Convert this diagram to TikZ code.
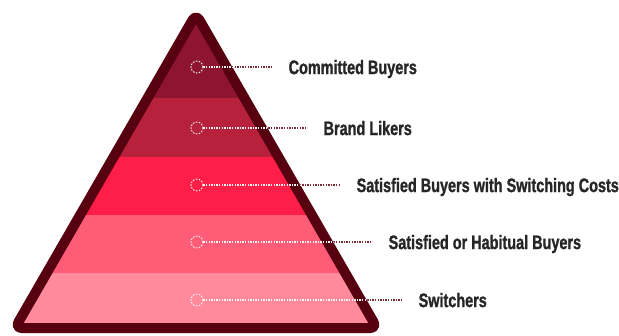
\documentclass[tikz,border=0pt]{standalone}
\usepackage{fontspec}
\newfontfamily\labelfont[FakeStretch=0.74,FakeBold=1.2]{Liberation Sans}
\usetikzlibrary{positioning}

\definecolor{rimred}{HTML}{57000F}
\definecolor{bandA}{HTML}{8E1530}
\definecolor{bandB}{HTML}{B8213C}
\definecolor{bandC}{HTML}{FF1E47}
\definecolor{bandD}{HTML}{FF5C78}
\definecolor{bandE}{HTML}{FF8A9C}
\definecolor{leader}{HTML}{7D2A37}
\definecolor{inkgray}{HTML}{262626}

\tikzset{
    ring/.style={circle, draw=white, line width=0.9pt, dash pattern=on 1.5pt off 1.5pt,
                 minimum size=12pt, inner sep=0pt},
    tag/.style={inner sep=0pt, text depth=0pt, text=inkgray,
                font=\labelfont\bfseries\fontsize{19.5}{22}\selectfont},
    dots/.style={line width=1.1pt, dash pattern=on 1.3pt off 1.3pt, shorten >=16pt}
}

\begin{document}
\begin{tikzpicture}[x=1pt,y=-1pt]
    \useasboundingbox (0,0) rectangle (619,335);

    % Corners of the pyramid (centre line of the rim)
    \coordinate (top) at (196,14);
    \coordinate (bl) at (15,328);
    \coordinate (br) at (377,328);

    % Bands: filled strips clipped to the pyramid
    \begin{scope}
        \clip (top) -- (bl) -- (br) -- cycle;
        \foreach \ya/\yb/\col in {0/98/bandA, 98/157/bandB, 157/215/bandC, 215/273/bandD, 273/335/bandE}{%
            \fill[\col] (0,\ya) rectangle (619,\yb);
        }
    \end{scope}

    % Rim:
    \draw[rimred, line width=10pt, rounded corners=7pt, line join=round] (top) -- (bl) -- (br) -- cycle;

    % Markers and labels
    \foreach \i/\yy/\gap/\txt in {1/67/85/Committed Buyers,
                                  2/128/120/Brand Likers,
                                  3/185/153/Satisfied Buyers with Switching Costs,
                                  4/242/185/Satisfied or Habitual Buyers,
                                  5/300/215/Switchers}{%
        \node[ring] (c\i) at (197,\yy) {};
        \node[tag, right=\gap pt of c\i] (l\i) {\txt};
        \draw[dots, leader] (c\i) -- (l\i);
    }

    % Leaders turn light over the pyramid and its rim
    \begin{scope}
        \clip (196,4) -- (6,333) -- (386,333) -- cycle;
        \foreach \i in {1,...,5}{%
            \draw[dots, white!85!pink] (c\i) -- (l\i);
        }
    \end{scope}
\end{tikzpicture}
\end{document}
